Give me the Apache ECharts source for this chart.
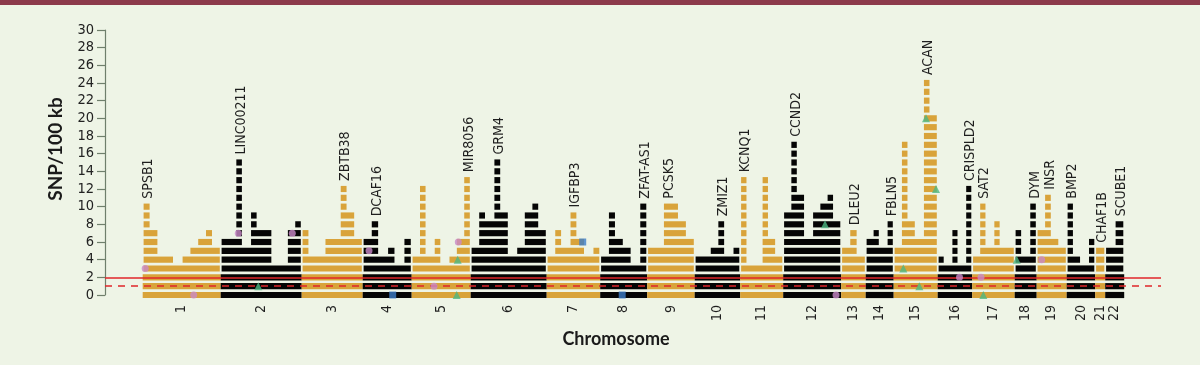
<!DOCTYPE html>
<html><head><meta charset="utf-8">
<script src="https://cdn.jsdelivr.net/npm/echarts@6/dist/echarts.min.js"></script>
<style>html,body{margin:0;padding:0;background:#eef4e6;}#c{width:1200px;height:365px;}</style>
</head><body><div id="c"></div>
<script>
// ---- data ----
const chromosomes = ['1','2','3','4','5','6','7','8','9','10','11','12','13','14','15','16','17','18','19','20','21','22'];
// relative plotted length of each chromosome
const chromLength = [78,81,61,49,59,76,53.5,47,47.5,45.5,43,58,24.5,28,44,34.5,42.5,22,30,28.5,10,19];
// SNP density (top row, SNP/100 kb) of each window along each chromosome
const columnTops = [
  [10,7,4,4,3,4,5,6,7,5],
  [6,6,15,5,9,7,7,3,3,7,8],
  [7,4,4,6,6,12,9,6],
  [6,8,4,5,3,6],
  [4,12,4,6,3,4,6,13],
  [5,9,8,15,9,4,5,9,10,7],
  [4,7,5,9,6,4,5],
  [4,9,6,5,3,10],
  [5,5,10,10,8,6],
  [4,4,5,8,4,5],
  [13,3,3,13,6,4],
  [9,17,11,6,9,10,11,8],
  [5,7,4],
  [6,7,5,8],
  [5,17,8,6,24,20],
  [4,3,7,3,12],
  [4,10,5,8,5,5],
  [7,4,10],
  [7,11,6,5],
  [10,4,3,6],
  [5],
  [5,8]
];
// [chromosome, window index, gene]
const geneLabels = [
  [1,0,'SPSB1'],[2,2,'LINC00211'],[3,5,'ZBTB38'],[4,1,'DCAF16'],[5,7,'MIR8056'],[6,3,'GRM4'],
  [7,3,'IGFBP3'],[8,5,'ZFAT-AS1'],[9,2,'PCSK5'],[10,3,'ZMIZ1'],[11,0,'KCNQ1'],[12,1,'CCND2'],
  [13,1,'DLEU2'],[14,3,'FBLN5'],[15,4,'ACAN'],[16,4,'CRISPLD2'],[17,1,'SAT2'],[18,2,'DYM'],
  [19,1,'INSR'],[20,0,'BMP2'],[21,0,'CHAF1B'],[22,1,'SCUBE1']
];
// [chromosome, position within chromosome, SNP/100 kb]
const pinkMarks = [[1,2.5,3],[1,51,0],[2,17.6,7],[2,71.6,7],[4,6.3,5],[5,22.3,1],[5,46.6,6],[12,52.8,0],[16,21.8,2],[17,8.8,2],[19,5,4]];
const greenMarks = [[2,37.6,1],[5,46,4],[5,45,0],[12,41.8,8],[15,9.6,3],[15,25.6,1],[15,32.3,20],[15,42.3,12],[17,11.1,0],[18,2,4]];
const blueMarks = [[4,30,0],[7,36,6],[8,22,0]];
const yTicks = {min:0, max:30, step:2};
const thresholdSolid = 2, thresholdDashed = 1;

// ---- build ----
const GOLD = '#d9a33a', BLACK = '#050505';
const chromStart = []; let acc = 0;
chromLength.forEach(L => { chromStart.push(acc); acc += L; });
const blockData = [];
columnTops.forEach((tops, ci) => {
  const n = tops.length, pitch = chromLength[ci] / n, maxR = Math.max(...tops);
  for (let r = 0; r <= maxR; r++) {
    let s = -1;
    for (let k = 0; k <= n; k++) {
      const on = k < n && tops[k] >= r;
      if (on && s < 0) s = k;
      if (!on && s >= 0) { blockData.push([chromStart[ci] + s * pitch, chromStart[ci] + k * pitch, r, ci % 2]); s = -1; }
    }
  }
});
const geneData = geneLabels.map(([c, k, name]) => {
  const pitch = chromLength[c-1] / columnTops[c-1].length;
  return [chromStart[c-1] + (k + 0.5) * pitch, columnTops[c-1][k], name];
});
const chromLabelData = chromosomes.map((c, i) => [chromStart[i] + chromLength[i] / 2, 0, c]);
const mk = arr => arr.map(([c, p, v]) => [chromStart[c-1] + p, v]);

const FONT = '"DejaVu Sans Condensed","Liberation Sans Narrow",sans-serif';
const chart = echarts.init(document.getElementById('c'), null, {renderer: 'canvas'});
chart.setOption({
  backgroundColor: '#eef4e6',
  animation: false,
  grid: {left: 105, right: 39, top: 30, bottom: 70, containLabel: false},
  xAxis: {type: 'value', min: -37.7, max: 1018.3, show: false},
  yAxis: {
    type: 'value', min: yTicks.min, max: yTicks.max, interval: yTicks.step,
    axisLine: {show: true, onZero: false, lineStyle: {color: '#6f7f6c', width: 1.2}},
    axisTick: {show: true, length: 8, lineStyle: {color: '#6f7f6c', width: 1.2}},
    axisLabel: {fontFamily: FONT, fontSize: 14.5, color: '#222', margin: 11},
    splitLine: {show: false}
  },
  graphic: [
    {type: 'rect', left: 0, top: 0, shape: {width: 1200, height: 5}, style: {fill: '#8c3a4b'}},
    {type: 'text', x: 56, y: 149, rotation: Math.PI / 2,
      style: {text: 'SNP/100 kb', font: 'bold 19px Lato, "Open Sans", sans-serif', fill: '#1a1a1a', align: 'center', verticalAlign: 'middle'}},
    {type: 'text', x: 616, y: 339,
      style: {text: 'Chromosome', font: 'bold 18px Lato, "Open Sans", sans-serif', fill: '#1a1a1a', align: 'center', verticalAlign: 'middle'}}
  ],
  series: [
    {
      type: 'custom', data: blockData, encode: {x: [0, 1], y: 2}, clip: false, z: 2,
      renderItem(params, api) {
        const x0 = api.value(0), x1 = api.value(1), r = api.value(2), c = api.value(3);
        const p0 = api.coord([x0, r]), p1 = api.coord([x1, r]);
        const rowH = api.size([0, 1])[1];
        const h = rowH * 0.7;
        const g = r >= 3 ? 1.8 : 0;
        return {type: 'rect', shape: {x: p0[0] + g / 2, y: p0[1] - h / 2, width: p1[0] - p0[0] - g, height: h},
          style: {fill: c ? BLACK : GOLD}};
      },
      markLine: {
        silent: true, symbol: 'none', label: {show: false}, z: 5,
        data: [
          {yAxis: thresholdSolid, lineStyle: {color: '#e0262a', width: 1.5, type: 'solid'}},
          {yAxis: thresholdDashed, lineStyle: {color: '#e0262a', width: 1.5, type: [7, 6]}}
        ]
      }
    },
    {type: 'scatter', data: mk(pinkMarks), symbol: 'circle', symbolSize: 7, itemStyle: {color: '#c98ac8'}, z: 6},
    {type: 'scatter', data: mk(greenMarks), symbol: 'triangle', symbolSize: 8, itemStyle: {color: '#4db682'}, z: 6},
    {type: 'scatter', data: mk(blueMarks), symbol: 'rect', symbolSize: 7, itemStyle: {color: '#3c7dc8'}, z: 6},
    {
      type: 'custom', data: geneData, encode: {x: 0, y: 1}, clip: false, z: 7,
      renderItem(params, api) {
        const p = api.coord([api.value(0), api.value(1)]);
        return {type: 'text', x: p[0] + 2, y: p[1] - 8, rotation: Math.PI / 2,
          style: {text: geneData[params.dataIndex][2], font: '14px ' + FONT, fill: '#1e1e1e', align: 'left', verticalAlign: 'middle'}};
      }
    },
    {
      type: 'custom', data: chromLabelData, encode: {x: 0, y: 1}, clip: false, z: 7,
      renderItem(params, api) {
        const p = api.coord([api.value(0), 0]);
        return {type: 'text', x: p[0], y: p[1] + 10, rotation: Math.PI / 2,
          style: {text: chromLabelData[params.dataIndex][2], font: '14px ' + FONT, fill: '#1e1e1e', align: 'right', verticalAlign: 'middle'}};
      }
    }
  ]
});
</script>
</body></html>
